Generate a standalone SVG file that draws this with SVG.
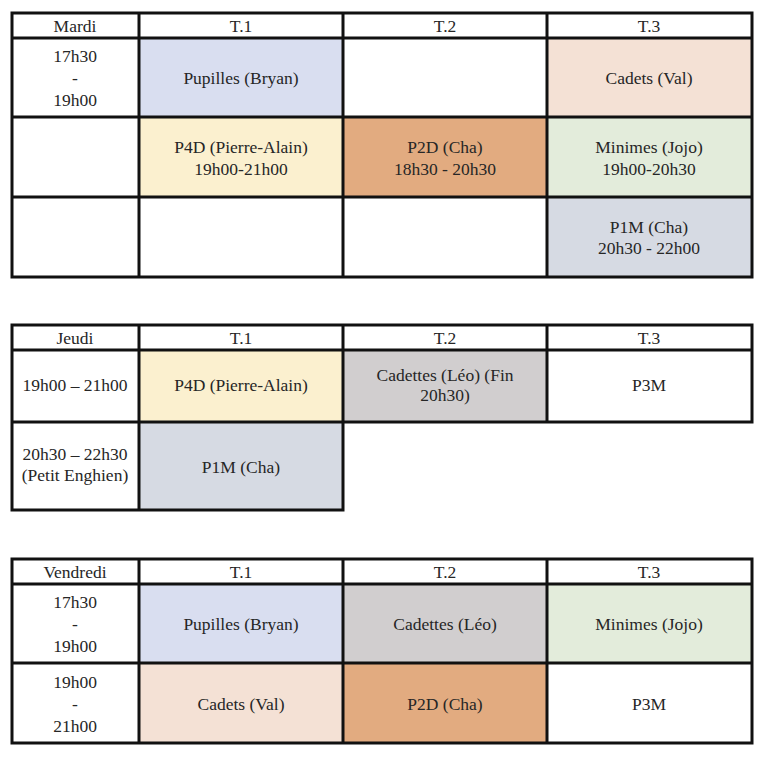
<svg xmlns="http://www.w3.org/2000/svg" width="768" height="759" viewBox="0 0 768 759">
<style>
text{font-family:"Liberation Serif","Times New Roman",serif;font-size:17.5px;fill:#262626;text-anchor:middle}
.g{fill:none;stroke:#111;stroke-width:3;stroke-linecap:square}
.blue{fill:#d9def0}.yel{fill:#fbf0cf}.ora{fill:#e2ab80}.pea{fill:#f4e1d5}.grn{fill:#e3ecdb}.gb{fill:#d6dae3}.gry{fill:#d1cecf}
</style>
<rect width="768" height="759" fill="#fff"/>
<g id="mardi">
<rect class="blue" x="139" y="38" width="204" height="79"/>
<rect class="pea" x="547" y="38" width="205" height="79"/>
<rect class="yel" x="139" y="117" width="204" height="80"/>
<rect class="ora" x="343" y="117" width="204" height="80"/>
<rect class="grn" x="547" y="117" width="205" height="80"/>
<rect class="gb" x="547" y="197" width="205" height="80"/>
<path class="g" d="M12 13H752V277H12Z M12 38H752 M12 117H752 M12 197H752 M139 13V277 M343 13V277 M547 13V277"/>
<text x="75" y="32">Mardi</text><text x="241" y="32">T.1</text><text x="445" y="32">T.2</text><text x="649" y="32">T.3</text>
<text x="75" y="62">17h30</text><text x="75" y="84">-</text><text x="75" y="106">19h00</text>
<text x="241" y="84">Pupilles (Bryan)</text>
<text x="649" y="84">Cadets (Val)</text>
<text x="241" y="153">P4D (Pierre-Alain)</text><text x="241" y="175">19h00-21h00</text>
<text x="445" y="153">P2D (Cha)</text><text x="445" y="175">18h30 - 20h30</text>
<text x="649" y="153">Minimes (Jojo)</text><text x="649" y="175">19h00-20h30</text>
<text x="649" y="233">P1M (Cha)</text><text x="649" y="254">20h30 - 22h00</text>
</g>
<g id="jeudi">
<rect class="yel" x="139" y="350" width="204" height="72"/>
<rect class="gry" x="343" y="350" width="204" height="72"/>
<rect class="gb" x="139" y="422" width="204" height="88"/>
<path class="g" d="M12 325H752V422H12Z M12 350H752 M139 325V510 M343 325V510 M547 325V422 M12 422V510H343"/>
<text x="75" y="344">Jeudi</text><text x="241" y="344">T.1</text><text x="445" y="344">T.2</text><text x="649" y="344">T.3</text>
<text x="75" y="391">19h00 – 21h00</text>
<text x="241" y="391">P4D (Pierre-Alain)</text>
<text x="445" y="381">Cadettes (Léo) (Fin</text><text x="445" y="401">20h30)</text>
<text x="649" y="391">P3M</text>
<text x="75" y="460">20h30 – 22h30</text><text x="75" y="481">(Petit Enghien)</text>
<text x="241" y="473">P1M (Cha)</text>
</g>
<g id="vendredi">
<rect class="blue" x="139" y="584" width="204" height="79"/>
<rect class="gry" x="343" y="584" width="204" height="79"/>
<rect class="grn" x="547" y="584" width="205" height="79"/>
<rect class="pea" x="139" y="663" width="204" height="80"/>
<rect class="ora" x="343" y="663" width="204" height="80"/>
<path class="g" d="M12 559H752V743H12Z M12 584H752 M12 663H752 M139 559V743 M343 559V743 M547 559V743"/>
<text x="75" y="578">Vendredi</text><text x="241" y="578">T.1</text><text x="445" y="578">T.2</text><text x="649" y="578">T.3</text>
<text x="75" y="608">17h30</text><text x="75" y="630">-</text><text x="75" y="652">19h00</text>
<text x="241" y="630">Pupilles (Bryan)</text>
<text x="445" y="630">Cadettes (Léo)</text>
<text x="649" y="630">Minimes (Jojo)</text>
<text x="75" y="688">19h00</text><text x="75" y="710">-</text><text x="75" y="732">21h00</text>
<text x="241" y="710">Cadets (Val)</text>
<text x="445" y="710">P2D (Cha)</text>
<text x="649" y="710">P3M</text>
</g>
</svg>
